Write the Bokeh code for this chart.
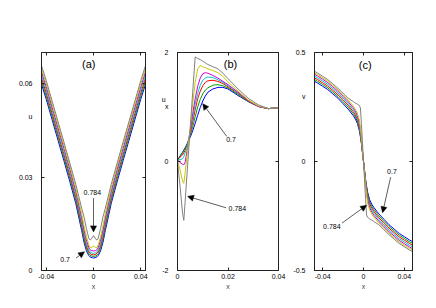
from bokeh.plotting import figure
from bokeh.layouts import row
from bokeh.models import Range1d, FixedTicker, LinearAxis, Label, Arrow, NormalHead
from bokeh.embed import file_html
from bokeh.resources import INLINE

FONT = "Liberation Sans"
colors = ["#0000ff", "#00a000", "#ff0000", "#00c8c8", "#d000d0", "#c8c800", "#808080"]

# ---------------- panel (a): u(x) ----------------
xa = [-0.045, -0.04, -0.035, -0.03, -0.025, -0.02, -0.015, -0.01, -0.008, -0.006, -0.004, -0.003, -0.002, 0,
      0.002, 0.003, 0.004, 0.006, 0.008, 0.01, 0.015, 0.02, 0.025, 0.03, 0.035, 0.04, 0.045]
ua_blue = [0.0610, 0.0550, 0.0484, 0.0418, 0.0352, 0.0285, 0.0215, 0.0128, 0.0090, 0.0063, 0.0048, 0.0044, 0.0042, 0.0040,
           0.0042, 0.0044, 0.0048, 0.0063, 0.0090, 0.0128, 0.0215, 0.0285, 0.0352, 0.0418, 0.0484, 0.0550, 0.0610]
ua_green = [0.0620, 0.0560, 0.0494, 0.0428, 0.0362, 0.0295, 0.0225, 0.0138, 0.0099, 0.0071, 0.0054, 0.0049, 0.0047, 0.0045,
            0.0047, 0.0049, 0.0054, 0.0071, 0.0099, 0.0138, 0.0225, 0.0295, 0.0362, 0.0428, 0.0494, 0.0560, 0.0620]
ua_red = [0.0630, 0.0570, 0.0504, 0.0438, 0.0372, 0.0305, 0.0235, 0.0148, 0.0109, 0.0079, 0.0060, 0.0055, 0.0052, 0.0050,
          0.0052, 0.0055, 0.0060, 0.0079, 0.0109, 0.0148, 0.0235, 0.0305, 0.0372, 0.0438, 0.0504, 0.0570, 0.0630]
ua_cyan = [0.0640, 0.0580, 0.0514, 0.0448, 0.0382, 0.0315, 0.0245, 0.0159, 0.0119, 0.0088, 0.0066, 0.0060, 0.0057, 0.0055,
           0.0057, 0.0060, 0.0066, 0.0088, 0.0119, 0.0159, 0.0245, 0.0315, 0.0382, 0.0448, 0.0514, 0.0580, 0.0640]
ua_magenta = [0.0650, 0.0590, 0.0524, 0.0458, 0.0392, 0.0325, 0.0255, 0.0170, 0.0130, 0.0098, 0.0074, 0.0067, 0.0064, 0.0063,
              0.0064, 0.0067, 0.0074, 0.0098, 0.0130, 0.0170, 0.0255, 0.0325, 0.0392, 0.0458, 0.0524, 0.0590, 0.0650]
ua_yellow = [0.0660, 0.0600, 0.0534, 0.0468, 0.0402, 0.0335, 0.0265, 0.0182, 0.0143, 0.0109, 0.0082, 0.0074, 0.0073, 0.0079,
             0.0073, 0.0074, 0.0082, 0.0109, 0.0143, 0.0182, 0.0265, 0.0335, 0.0402, 0.0468, 0.0534, 0.0600, 0.0660]
ua_gray = [0.0670, 0.0610, 0.0544, 0.0478, 0.0412, 0.0345, 0.0277, 0.0200, 0.0172, 0.0135, 0.0104, 0.0098, 0.0100, 0.0112,
           0.0100, 0.0098, 0.0104, 0.0135, 0.0172, 0.0200, 0.0277, 0.0345, 0.0412, 0.0478, 0.0544, 0.0610, 0.0670]

# ---------------- panel (b): u_x(x) ----------------
xb = [0, 0.001, 0.002, 0.0025, 0.003, 0.004, 0.005, 0.006, 0.007, 0.008, 0.009, 0.010, 0.011, 0.012,
      0.014, 0.016, 0.018, 0.020, 0.024, 0.028, 0.032, 0.036, 0.038, 0.040]
ub_blue = [0.02, 0.10, 0.17, 0.21, 0.25, 0.34, 0.44, 0.56, 0.70, 0.85, 0.99, 1.11, 1.20, 1.27,
           1.33, 1.36, 1.36, 1.33, 1.21, 1.10, 1.01, 0.97, 0.98, 0.99]
ub_green = [0.02, 0.10, 0.16, 0.20, 0.24, 0.34, 0.47, 0.63, 0.82, 1.00, 1.14, 1.24, 1.31, 1.35,
            1.40, 1.41, 1.39, 1.35, 1.23, 1.10, 1.01, 0.97, 0.98, 0.99]
ub_red = [0.03, 0.08, 0.12, 0.16, 0.20, 0.32, 0.50, 0.72, 0.95, 1.15, 1.29, 1.39, 1.45, 1.48,
          1.49, 1.47, 1.43, 1.37, 1.25, 1.11, 1.01, 0.97, 0.98, 0.99]
ub_cyan = [0.03, 0.03, 0.05, 0.09, 0.15, 0.32, 0.55, 0.80, 1.05, 1.25, 1.40, 1.49, 1.53, 1.55,
           1.54, 1.50, 1.45, 1.39, 1.26, 1.12, 1.01, 0.97, 0.98, 0.99]
ub_magenta = [0.03, -0.02, -0.05, -0.06, -0.02, 0.25, 0.55, 0.88, 1.15, 1.38, 1.53, 1.61, 1.63, 1.62,
              1.58, 1.53, 1.47, 1.41, 1.27, 1.12, 1.01, 0.97, 0.98, 0.99]
ub_yellow = [0.02, -0.15, -0.36, -0.40, -0.22, 0.19, 0.60, 1.05, 1.45, 1.70, 1.76, 1.74, 1.72, 1.70,
             1.67, 1.63, 1.56, 1.46, 1.29, 1.13, 1.02, 0.97, 0.98, 0.99]
ub_gray = [0.00, -0.45, -0.95, -1.08, -0.75, -0.08, 0.59, 1.26, 1.92, 1.89, 1.87, 1.84, 1.81, 1.78,
           1.74, 1.70, 1.62, 1.52, 1.33, 1.16, 1.04, 0.97, 0.98, 0.99]

# ---------------- panel (c): v(x) ----------------
xc = [-0.049, -0.045, -0.04, -0.035, -0.03, -0.025, -0.02, -0.015, -0.01, -0.008, -0.006, -0.004, -0.003, -0.002, -0.001, 0,
      0.001, 0.002, 0.003, 0.004, 0.006, 0.008, 0.01, 0.015, 0.02, 0.025, 0.03, 0.035, 0.04, 0.045, 0.049]
vc_blue = [0.370, 0.360, 0.345, 0.330, 0.310, 0.290, 0.265, 0.240, 0.210, 0.195, 0.175, 0.140, 0.112, 0.080, 0.040, 0,
           -0.040, -0.080, -0.112, -0.140, -0.175, -0.195, -0.210, -0.240, -0.265, -0.290, -0.310, -0.330, -0.345, -0.360, -0.370]
vc_green = [0.378, 0.368, 0.353, 0.338, 0.318, 0.298, 0.274, 0.249, 0.219, 0.204, 0.184, 0.148, 0.118, 0.084, 0.042, 0,
            -0.042, -0.084, -0.118, -0.148, -0.184, -0.204, -0.219, -0.249, -0.274, -0.298, -0.318, -0.338, -0.353, -0.368, -0.378]
vc_red = [0.386, 0.376, 0.361, 0.346, 0.326, 0.306, 0.283, 0.258, 0.228, 0.213, 0.193, 0.156, 0.124, 0.088, 0.044, 0,
          -0.044, -0.088, -0.124, -0.156, -0.193, -0.213, -0.228, -0.258, -0.283, -0.306, -0.326, -0.346, -0.361, -0.376, -0.386]
vc_cyan = [0.394, 0.384, 0.369, 0.354, 0.334, 0.314, 0.291, 0.266, 0.237, 0.222, 0.202, 0.165, 0.131, 0.092, 0.046, 0,
           -0.046, -0.092, -0.131, -0.165, -0.202, -0.222, -0.237, -0.266, -0.291, -0.314, -0.334, -0.354, -0.369, -0.384, -0.394]
vc_magenta = [0.402, 0.392, 0.377, 0.362, 0.342, 0.322, 0.299, 0.274, 0.246, 0.231, 0.211, 0.175, 0.139, 0.097, 0.048, 0,
              -0.048, -0.097, -0.139, -0.175, -0.211, -0.231, -0.246, -0.274, -0.299, -0.322, -0.342, -0.362, -0.377, -0.392, -0.402]
vc_yellow = [0.409, 0.399, 0.384, 0.369, 0.349, 0.329, 0.306, 0.282, 0.254, 0.240, 0.222, 0.190, 0.150, 0.104, 0.052, 0,
             -0.052, -0.104, -0.150, -0.190, -0.222, -0.240, -0.254, -0.282, -0.306, -0.329, -0.349, -0.369, -0.384, -0.399, -0.409]
vc_gray = [0.416, 0.406, 0.391, 0.376, 0.356, 0.336, 0.313, 0.290, 0.275, 0.268, 0.263, 0.256, 0.245, 0.170, 0.085, 0,
           -0.085, -0.170, -0.245, -0.256, -0.263, -0.268, -0.275, -0.290, -0.313, -0.336, -0.356, -0.376, -0.391, -0.406, -0.416]

a_series = [ua_blue, ua_green, ua_red, ua_cyan, ua_magenta, ua_yellow, ua_gray]
b_series = [ub_blue, ub_green, ub_red, ub_cyan, ub_magenta, ub_yellow, ub_gray]
c_series = [vc_blue, vc_green, vc_red, vc_cyan, vc_magenta, vc_yellow, vc_gray]

TICK_FS = "7px"
EDGE = "#222222"


def make_fig(width, xr, yr, xt, yt, xlab, ylab, name_labels, bl, br):
    p = figure(width=width, height=300, x_range=Range1d(*xr), y_range=Range1d(*yr),
               output_backend="svg", toolbar_location=None,
               min_border_left=bl, min_border_right=br, min_border_top=52, min_border_bottom=30)
    p.grid.visible = False
    p.outline_line_color = EDGE
    p.outline_line_width = 1
    # x axis (below)
    xa_ = p.xaxis[0]
    xa_.ticker = FixedTicker(ticks=xt)
    xa_.major_label_overrides = dict(zip(xt, xlab))
    xa_.major_tick_in = 3
    xa_.major_tick_out = 0
    xa_.minor_tick_in = 0
    xa_.minor_tick_out = 0
    xa_.major_label_standoff = 3
    xa_.axis_label = "x"
    xa_.axis_label_text_font = FONT
    xa_.axis_label_text_font_size = "7px"
    xa_.axis_label_text_font_style = "normal"
    xa_.axis_label_standoff = 1
    # y axis (left): the variable name sits among the tick labels, like the original
    ya_ = p.yaxis[0]
    ya_.ticker = FixedTicker(ticks=sorted(yt + list(name_labels.keys())), minor_ticks=yt)
    ov = dict(zip(yt, ylab))
    ov.update(name_labels)
    ya_.major_label_overrides = ov
    ya_.major_tick_line_color = None
    ya_.minor_tick_in = 3
    ya_.minor_tick_out = 0
    ya_.minor_tick_line_color = EDGE
    ya_.major_label_standoff = 3
    for ax in (xa_, ya_):
        ax.axis_line_color = EDGE
        ax.major_label_text_font = FONT
        ax.major_label_text_font_size = TICK_FS
        ax.major_label_text_color = "black"
    xa_.major_tick_line_color = EDGE
    # box ticks on the right and top
    for loc, ticks in (("right", yt), ("above", xt)):
        ax = LinearAxis(ticker=FixedTicker(ticks=ticks))
        ax.major_label_overrides = {t: "" for t in ticks}
        ax.major_label_text_font_size = TICK_FS
        ax.major_label_standoff = 0
        ax.major_tick_in = 3
        ax.major_tick_out = 0
        ax.minor_tick_in = 0
        ax.minor_tick_out = 0
        ax.axis_line_color = EDGE
        ax.major_tick_line_color = EDGE
        p.add_layout(ax, loc)
    return p


def txt(p, x, y, t, size="7px", align="center"):
    p.add_layout(Label(x=x, y=y, text=t, text_font=FONT, text_font_size=size,
                       text_align=align, text_baseline="middle", text_color="black"))


def arrow(p, x0, y0, x1, y1):
    p.add_layout(Arrow(end=NormalHead(size=6, fill_color="black", line_color="black", line_width=0.5),
                       x_start=x0, y_start=y0, x_end=x1, y_end=y1,
                       line_color="#333333", line_width=0.8))


# (a)
fa = make_fig(158, (-0.044, 0.044), (0, 0.07), [-0.04, 0, 0.04], [0, 0.03, 0.06],
              ["-0.04", "0", "0.04"], ["0", "0.03", "0.06"], {0.0494: "u"}, 41, 13)
for ys, c in zip(a_series, colors):
    fa.line(xa, ys, line_color=c, line_width=1)
txt(fa, -0.004, 0.0662, "(a)", "11px")
txt(fa, -0.001, 0.0252, "0.784")
arrow(fa, 0, 0.0232, 0, 0.0124)
txt(fa, -0.024, 0.0034, "0.7")
arrow(fa, -0.0148, 0.0040, -0.0076, 0.0060)

# (b)
fb = make_fig(132, (0, 0.04), (-2, 2), [0, 0.02, 0.04], [-2, 0, 2],
              ["0", "0.02", "0.04"], ["-2", "0", "2"], {1.13: "u\u2009\u2009", 1.01: "x"}, 15, 12)
for ys, c in zip(b_series, colors):
    fb.line(xb, ys, line_color=c, line_width=1)
txt(fb, 0.021, 1.79, "(b)", "11px")
txt(fb, 0.0212, 0.40, "0.7")
arrow(fb, 0.0195, 0.46, 0.0100, 1.06)
txt(fb, 0.0237, -0.87, "0.784")
arrow(fb, 0.0193, -0.85, 0.0040, -0.64)

# (c)
fc = make_fig(138, (-0.048, 0.048), (-0.5, 0.5), [-0.04, 0, 0.04], [-0.5, 0, 0.5],
              ["-0.04", "0", "0.04"], ["-0.5", "0", "0.5"], {0.298: "v"}, 18, 16)
for ys, c in zip(c_series, colors):
    fc.line(xc, ys, line_color=c, line_width=1)
txt(fc, 0.0016, 0.443, "(c)", "11px")
txt(fc, 0.0279, -0.046, "0.7")
arrow(fc, 0.0266, -0.072, 0.0187, -0.235)
txt(fc, -0.031, -0.298, "0.784")
arrow(fc, -0.021, -0.282, 0.0030, -0.201)

layout = row(fa, fb, fc)
open("out.html", "w").write(file_html(layout, INLINE))
